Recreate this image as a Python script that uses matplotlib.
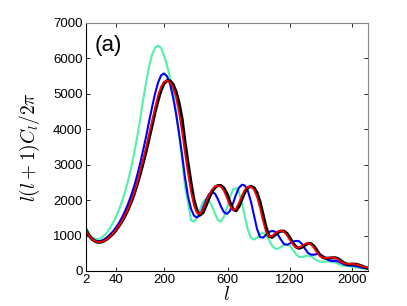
"""CMB temperature power spectrum for four models, panel (a)."""

import numpy as np
import matplotlib.pyplot as plt

plt.rcParams["font.family"] = ["Liberation Sans", "DejaVu Sans"]
plt.rcParams["mathtext.fontset"] = "cm"

ell = [2, 3.6, 5.7, 8.3, 11.3, 14.9, 18.9, 23.4, 28.3, 33.8, 39.7, 46.1, 52.9,
       60.3, 68.1, 76.4, 85.2, 94.4, 104, 114, 125, 136, 148, 160, 173, 186,
       199, 213, 228, 243, 258, 274, 291, 307, 325, 343, 361, 380, 399, 419,
       439, 460, 481, 503, 525, 547, 570, 594, 618, 643, 668, 693, 719, 745,
       772, 800, 828, 856, 885, 914, 944, 974, 1005, 1036, 1068, 1100, 1132,
       1166, 1199, 1233, 1268, 1303, 1338, 1374, 1411, 1448, 1485, 1523, 1561,
       1600, 1639, 1679, 1720, 1760, 1802, 1843, 1885, 1928, 1971, 2015, 2059,
       2103, 2148, 2194, 2240]

# l(l+1)C_l/2pi for each model
cl_green = [1230, 1060, 960, 905, 900, 930, 1000, 1090, 1210, 1360, 1530, 1730,
            1960, 2230, 2540, 2900, 3300, 3750, 4250, 4780, 5300, 5760, 6100,
            6300, 6360, 6300, 6080, 5820, 5450, 5050, 4520, 3870, 3160, 2400,
            1920, 1430, 1390, 1520, 1750, 1950, 2040, 1990, 1830, 1610, 1430,
            1390, 1530, 1790, 2090, 2300, 2340, 2210, 1920, 1530, 1150, 930, 885,
            940, 1040, 1080, 1020, 880, 720, 630, 630, 680, 730, 745, 700, 590,
            470, 400, 395, 420, 430, 410, 360, 300, 265, 260, 265, 270, 265, 240,
            200, 165, 145, 135, 125, 115, 100, 85, 75, 65, 60]

cl_blue = [1180, 1020, 920, 860, 840, 850, 890, 950, 1030, 1120, 1230, 1360, 1510,
           1690, 1890, 2120, 2380, 2680, 3010, 3380, 3780, 4200, 4620, 5000, 5320,
           5520, 5575, 5500, 5280, 4900, 4450, 3900, 3280, 2650, 2100, 1750, 1560,
           1510, 1580, 1790, 2000, 2170, 2230, 2180, 2020, 1820, 1660, 1610, 1700,
           1910, 2160, 2350, 2435, 2410, 2250, 1950, 1560, 1190, 960, 940, 1020,
           1100, 1130, 1110, 1020, 880, 760, 740, 780, 830, 850, 840, 760, 630,
           510, 460, 460, 480, 470, 420, 350, 300, 280, 285, 270, 230, 190, 165,
           155, 150, 135, 115, 95, 80, 70]

cl_red = [1160, 1005, 905, 845, 815, 820, 855, 905, 975, 1060, 1160, 1285, 1420,
          1575, 1760, 1965, 2200, 2470, 2810, 3130, 3480, 3850, 4230, 4600, 4960,
          5200, 5340, 5375, 5320, 5180, 4920, 4480, 3930, 3340, 2750, 2230, 1840,
          1630, 1610, 1740, 1950, 2150, 2300, 2390, 2415, 2380, 2260, 2060, 1840,
          1710, 1760, 1930, 2130, 2300, 2380, 2380, 2290, 2090, 1780, 1420, 1100,
          970, 990, 1060, 1120, 1140, 1110, 1000, 870, 740, 660, 660, 710, 765,
          790, 750, 650, 520, 420, 375, 370, 375, 385, 370, 320, 260, 215, 200,
          200, 200, 185, 160, 130, 110, 95]

cl_black = [1150, 1000, 900, 840, 810, 815, 850, 900, 970, 1050, 1150, 1270, 1400,
            1550, 1730, 1930, 2160, 2420, 2710, 3020, 3360, 3720, 4100, 4480, 4820,
            5100, 5290, 5370, 5365, 5270, 5070, 4750, 4300, 3650, 3050, 2480, 2000,
            1700, 1580, 1650, 1840, 2060, 2240, 2360, 2415, 2410, 2340, 2180, 1940,
            1740, 1700, 1820, 2030, 2230, 2350, 2390, 2350, 2210, 1950, 1600, 1240,
            980, 950, 1020, 1090, 1125, 1125, 1060, 930, 790, 680, 640, 670, 730,
            780, 770, 700, 580, 450, 380, 360, 360, 370, 375, 350, 290, 230, 195,
            190, 195, 190, 170, 140, 105, 75]

x_ticks = [2, 40, 200, 600, 1200, 2000]
y_ticks = [0, 1000, 2000, 3000, 4000, 5000, 6000, 7000]


def main():
    fig = plt.figure(figsize=(4.07, 3.06), dpi=100)
    ax = fig.add_axes([0.2113, 0.1144, 0.6929, 0.8105])

    # x axis is stretched like sqrt(l)
    ax.set_xscale("function", functions=(np.sqrt, np.square))

    ax.plot(ell, cl_green, color="#50F0AA", lw=1.5)
    ax.plot(ell, cl_blue, color="#0000FF", lw=1.5)
    ax.plot(ell, cl_black, color="black", lw=2.2)
    ax.plot(ell, cl_red, color="#FF0000", lw=1.3)

    ax.set_xlim(2, 2240)
    ax.set_ylim(0, 7000)
    ax.set_xticks(x_ticks)
    ax.set_xticklabels([str(t) for t in x_ticks])
    ax.set_yticks(y_ticks)
    ax.minorticks_off()
    ax.tick_params(direction="in", length=3, width=0.6, labelsize=9.5,
                   top=True, right=True, pad=2.5)

    ax.set_xlabel("$l$", fontsize=14, labelpad=0)
    ax.set_ylabel("$l(l+1)C_l/2\\pi$", fontsize=14, labelpad=8)
    ax.text(0.03, 0.95, "(a)", transform=ax.transAxes, fontsize=16,
            ha="left", va="top")

    for side in ["top", "right"]:
        ax.spines[side].set_color("#888888")
    for spine in ax.spines.values():
        spine.set_linewidth(0.8)

    fig.savefig("out.png", dpi=100)


if __name__ == "__main__":
    main()
